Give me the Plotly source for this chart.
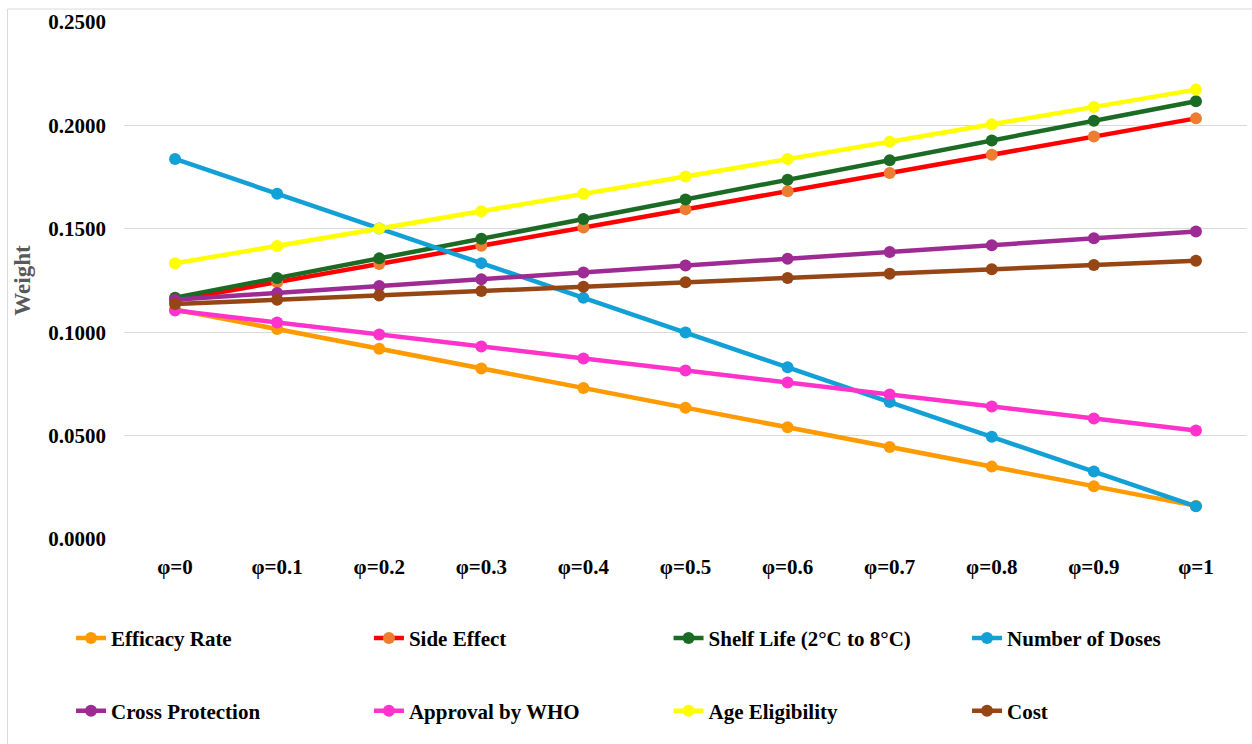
import plotly.graph_objects as go

# Sensitivity of criterion weights to the parameter φ
phi_labels = ["φ=0", "φ=0.1", "φ=0.2", "φ=0.3", "φ=0.4", "φ=0.5",
              "φ=0.6", "φ=0.7", "φ=0.8", "φ=0.9", "φ=1"]

efficacy_rate = [0.1110, 0.1015, 0.0920, 0.0825, 0.0730, 0.0635, 0.0540, 0.0445, 0.0350, 0.0255, 0.0160]
side_effect = [0.1154, 0.1242, 0.1330, 0.1418, 0.1506, 0.1594, 0.1682, 0.1770, 0.1858, 0.1946, 0.2034]
shelf_life = [0.1167, 0.1262, 0.1357, 0.1452, 0.1547, 0.1642, 0.1737, 0.1832, 0.1927, 0.2022, 0.2117]
number_of_doses = [0.1838, 0.1670, 0.1502, 0.1334, 0.1166, 0.0998, 0.0830, 0.0662, 0.0494, 0.0326, 0.0158]
cross_protection = [0.1157, 0.1190, 0.1223, 0.1256, 0.1289, 0.1322, 0.1355, 0.1388, 0.1421, 0.1454, 0.1487]
approval_by_who = [0.1105, 0.1047, 0.0989, 0.0931, 0.0873, 0.0815, 0.0757, 0.0699, 0.0641, 0.0583, 0.0525]
age_eligibility = [0.1333, 0.1417, 0.1501, 0.1585, 0.1669, 0.1753, 0.1837, 0.1921, 0.2005, 0.2089, 0.2173]
cost = [0.1136, 0.1157, 0.1178, 0.1199, 0.1220, 0.1241, 0.1262, 0.1283, 0.1304, 0.1325, 0.1346]

y_ticks = [0.0, 0.05, 0.10, 0.15, 0.20, 0.25]
y_tick_text = ["0.0000", "0.0500", "0.1000", "0.1500", "0.2000", "0.2500"]

# name, values, line colour, marker colour
series = [
    ("Efficacy Rate", efficacy_rate, "#FF9A00", "#FF9A00"),
    ("Side Effect", side_effect, "#FF0000", "#ED7D31"),
    ("Shelf Life (2°C to 8°C)", shelf_life, "#1C6B24", "#1C6B24"),
    ("Number of Doses", number_of_doses, "#13A0D6", "#13A0D6"),
    ("Cross Protection", cross_protection, "#9E2B93", "#9E2B93"),
    ("Approval by WHO", approval_by_who, "#FF33CC", "#FF33CC"),
    ("Age Eligibility", age_eligibility, "#FFFF00", "#FFFF00"),
    ("Cost", cost, "#964514", "#964514"),
]

FONT = "Liberation Serif, Times New Roman, serif"

# Legend grid: 4 columns x 2 rows, one single-entry legend per cell
legend_cols = [-0.0472, 0.2181, 0.4849, 0.7507]
legend_rows = [-0.192, -0.333]

fig = go.Figure()
legend_layout = {}
for i, (name, vals, lc, mc) in enumerate(series):
    key = "legend" if i == 0 else f"legend{i + 1}"
    fig.add_trace(go.Scatter(
        x=phi_labels, y=vals, name=name, mode="lines+markers",
        line=dict(color=lc, width=4.5),
        marker=dict(color=mc, size=12),
        legend=key,
    ))
    legend_layout[key] = dict(
        orientation="h", xanchor="left", yanchor="middle",
        x=legend_cols[i % 4], y=legend_rows[i // 4],
        font=dict(family=FONT, size=21, color="#000000", weight="bold"),
        bgcolor="rgba(0,0,0,0)", itemclick=False, itemdoubleclick=False,
    )

fig.update_layout(
    width=1252, height=744,
    margin=dict(l=124, r=5, t=22, b=205),
    paper_bgcolor="white", plot_bgcolor="white",
    font=dict(family=FONT, color="#000000"),
    showlegend=True,
    xaxis=dict(
        type="category", range=[-0.5, 10.5],
        showgrid=False, showline=False, zeroline=False,
        tickfont=dict(family=FONT, size=21, color="#000000", weight="bold"),
        ticklabelstandoff=13,
    ),
    yaxis=dict(
        range=[0, 0.25], tickvals=y_ticks, ticktext=y_tick_text,
        showgrid=True, gridcolor="#D9D9D9", gridwidth=1,
        zeroline=False, showline=False,
        tickfont=dict(family=FONT, size=21, color="#000000", weight="bold"),
        ticklabelstandoff=17,
        title=dict(text="Weight", standoff=11,
                   font=dict(family=FONT, size=23, color="#595959", weight="bold")),
        automargin=False,
    ),
    shapes=[dict(
        type="rect", xref="paper", yref="paper",
        x0=-0.1037, x1=1.02, y0=-0.5, y1=1.0251,
        line=dict(color="#D9D9D9", width=1), fillcolor="rgba(0,0,0,0)",
        layer="below",
    )],
    **legend_layout,
)

fig.write_html("out.html")
